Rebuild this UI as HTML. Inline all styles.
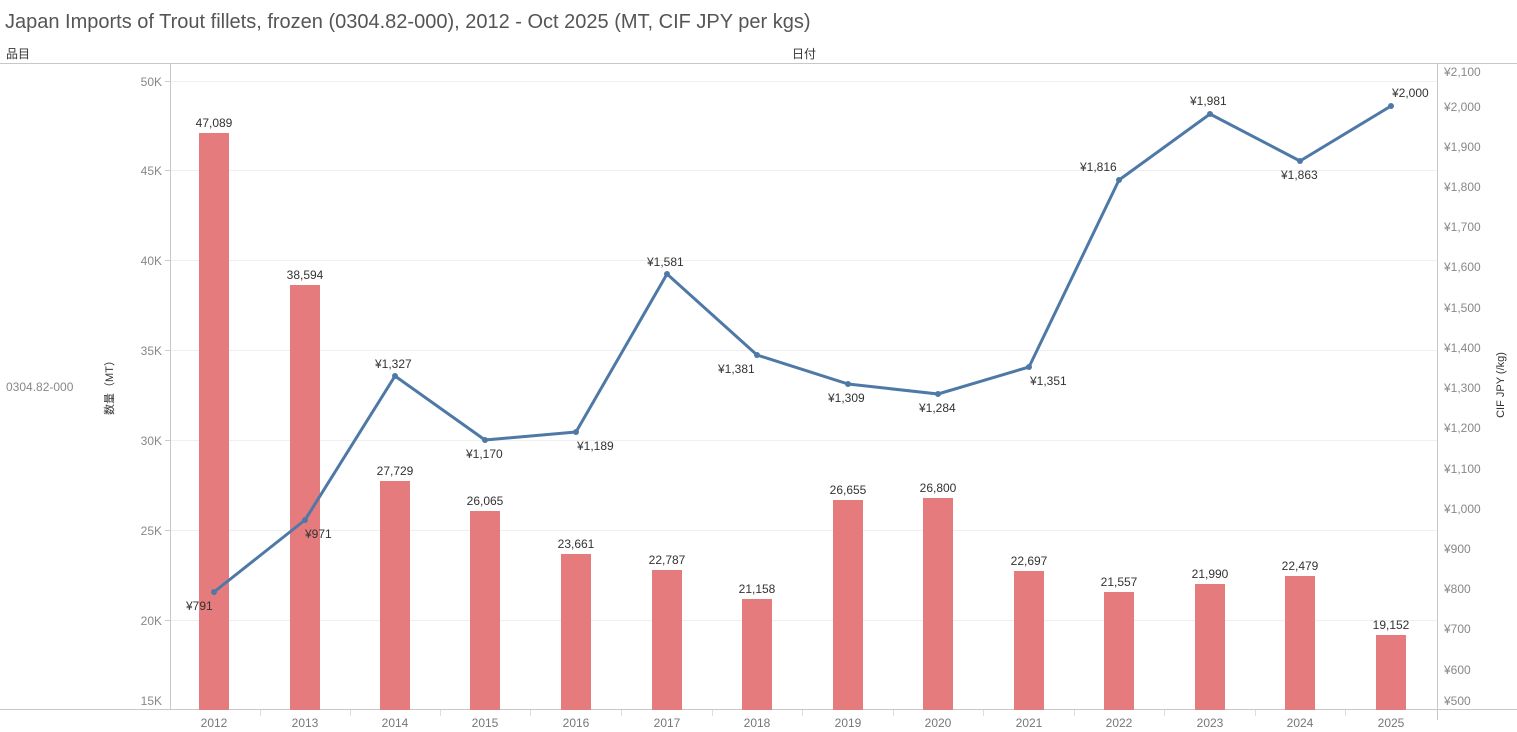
<!DOCTYPE html>
<html><head><meta charset="utf-8"><style>
body{margin:0;background:#fff;}
svg{display:block;font-family:"Liberation Sans","Noto Sans CJK JP",sans-serif;}
</style></head><body>
<svg width="1517" height="732" xmlns="http://www.w3.org/2000/svg">
<text x="5" y="28" font-size="20" fill="#555">Japan Imports of Trout fillets, frozen (0304.82-000), 2012 - Oct 2025 (MT, CIF JPY per kgs)</text>
<text x="6" y="58" font-size="12" fill="#333">品目</text>
<text x="792" y="58" font-size="12" fill="#333">日付</text>
<line x1="0" y1="63.5" x2="1517" y2="63.5" stroke="#c8c8c8"/>
<line x1="0" y1="709.5" x2="1517" y2="709.5" stroke="#c8c8c8"/>
<line x1="170.5" y1="63" x2="170.5" y2="710" stroke="#c8c8c8"/>
<line x1="1437.5" y1="63" x2="1437.5" y2="720" stroke="#c8c8c8"/>
<g stroke="#efefef">
<line x1="171" y1="81.5" x2="1437" y2="81.5"/><line x1="171" y1="170.5" x2="1437" y2="170.5"/><line x1="171" y1="260.5" x2="1437" y2="260.5"/><line x1="171" y1="350.5" x2="1437" y2="350.5"/><line x1="171" y1="440.5" x2="1437" y2="440.5"/><line x1="171" y1="530.5" x2="1437" y2="530.5"/><line x1="171" y1="620.5" x2="1437" y2="620.5"/>
</g>
<g stroke="#ccc">
<line x1="165" y1="81.5" x2="170" y2="81.5"/><line x1="165" y1="170.5" x2="170" y2="170.5"/><line x1="165" y1="260.5" x2="170" y2="260.5"/><line x1="165" y1="350.5" x2="170" y2="350.5"/><line x1="165" y1="440.5" x2="170" y2="440.5"/><line x1="165" y1="530.5" x2="170" y2="530.5"/><line x1="165" y1="620.5" x2="170" y2="620.5"/>
</g>
<g font-size="12" fill="#888" text-anchor="end">
<text x="162" y="86">50K</text><text x="162" y="175">45K</text><text x="162" y="265">40K</text><text x="162" y="355">35K</text><text x="162" y="445">30K</text><text x="162" y="535">25K</text><text x="162" y="625">20K</text><text x="162" y="705">15K</text>
</g>
<text x="6" y="391" font-size="12" fill="#888">0304.82-000</text>
<text transform="translate(113,385) rotate(-90)" font-size="11" fill="#333" text-anchor="middle">数量（MT）</text>
<text transform="translate(1504,385) rotate(-90)" font-size="11" fill="#333" text-anchor="middle">CIF JPY (/kg)</text>
<g font-size="12" fill="#888">
<text x="1444" y="76">¥2,100</text><text x="1444" y="111">¥2,000</text><text x="1444" y="151">¥1,900</text><text x="1444" y="191">¥1,800</text><text x="1444" y="231">¥1,700</text><text x="1444" y="271">¥1,600</text><text x="1444" y="312">¥1,500</text><text x="1444" y="352">¥1,400</text><text x="1444" y="392">¥1,300</text><text x="1444" y="432">¥1,200</text><text x="1444" y="473">¥1,100</text><text x="1444" y="513">¥1,000</text><text x="1444" y="553">¥900</text><text x="1444" y="593">¥800</text><text x="1444" y="633">¥700</text><text x="1444" y="674">¥600</text><text x="1444" y="705">¥500</text>
</g>
<g fill="#e67b7d">
<rect x="199" y="133" width="30" height="577"/><rect x="290" y="285" width="30" height="425"/><rect x="380" y="481" width="30" height="229"/><rect x="470" y="511" width="30" height="199"/><rect x="561" y="554" width="30" height="156"/><rect x="652" y="570" width="30" height="140"/><rect x="742" y="599" width="30" height="111"/><rect x="833" y="500" width="30" height="210"/><rect x="923" y="498" width="30" height="212"/><rect x="1014" y="571" width="30" height="139"/><rect x="1104" y="592" width="30" height="118"/><rect x="1195" y="584" width="30" height="126"/><rect x="1285" y="576" width="30" height="134"/><rect x="1376" y="635" width="30" height="75"/>
</g>
<g font-size="12" fill="#333" text-anchor="middle">
<text x="214" y="127">47,089</text><text x="305" y="279">38,594</text><text x="395" y="475">27,729</text><text x="485" y="505">26,065</text><text x="576" y="548">23,661</text><text x="667" y="564">22,787</text><text x="757" y="593">21,158</text><text x="848" y="494">26,655</text><text x="938" y="492">26,800</text><text x="1029" y="565">22,697</text><text x="1119" y="586">21,557</text><text x="1210" y="578">21,990</text><text x="1300" y="570">22,479</text><text x="1391" y="629">19,152</text>
</g>
<polyline fill="none" stroke="#4e79a7" stroke-width="3" stroke-linejoin="round" points="214,592 305,520 395,376 485,440 576,432 667,274 757,355 848,384 938,394 1029,367 1119,180 1210,114 1300,161 1391,106"/>
<g fill="#4e79a7">
<circle cx="214" cy="592" r="3"/><circle cx="305" cy="520" r="3"/><circle cx="395" cy="376" r="3"/><circle cx="485" cy="440" r="3"/><circle cx="576" cy="432" r="3"/><circle cx="667" cy="274" r="3"/><circle cx="757" cy="355" r="3"/><circle cx="848" cy="384" r="3"/><circle cx="938" cy="394" r="3"/><circle cx="1029" cy="367" r="3"/><circle cx="1119" cy="180" r="3"/><circle cx="1210" cy="114" r="3"/><circle cx="1300" cy="161" r="3"/><circle cx="1391" cy="106" r="3"/>
</g>
<g font-size="12" fill="#333">
<text x="186" y="610">¥791</text><text x="305" y="538">¥971</text><text x="375" y="368">¥1,327</text><text x="466" y="458">¥1,170</text><text x="577" y="450">¥1,189</text><text x="647" y="266">¥1,581</text><text x="718" y="373">¥1,381</text><text x="828" y="402">¥1,309</text><text x="919" y="412">¥1,284</text><text x="1030" y="385">¥1,351</text><text x="1080" y="171">¥1,816</text><text x="1190" y="105">¥1,981</text><text x="1281" y="179">¥1,863</text><text x="1392" y="97">¥2,000</text>
</g>
<g stroke="#ddd"><line x1="260.5" y1="710" x2="260.5" y2="716"/><line x1="350.5" y1="710" x2="350.5" y2="716"/><line x1="440.5" y1="710" x2="440.5" y2="716"/><line x1="530.5" y1="710" x2="530.5" y2="716"/><line x1="621.5" y1="710" x2="621.5" y2="716"/><line x1="712.5" y1="710" x2="712.5" y2="716"/><line x1="802.5" y1="710" x2="802.5" y2="716"/><line x1="893.5" y1="710" x2="893.5" y2="716"/><line x1="983.5" y1="710" x2="983.5" y2="716"/><line x1="1074.5" y1="710" x2="1074.5" y2="716"/><line x1="1164.5" y1="710" x2="1164.5" y2="716"/><line x1="1255.5" y1="710" x2="1255.5" y2="716"/><line x1="1345.5" y1="710" x2="1345.5" y2="716"/></g>
<g font-size="12" fill="#777" text-anchor="middle">
<text x="214" y="727">2012</text><text x="305" y="727">2013</text><text x="395" y="727">2014</text><text x="485" y="727">2015</text><text x="576" y="727">2016</text><text x="667" y="727">2017</text><text x="757" y="727">2018</text><text x="848" y="727">2019</text><text x="938" y="727">2020</text><text x="1029" y="727">2021</text><text x="1119" y="727">2022</text><text x="1210" y="727">2023</text><text x="1300" y="727">2024</text><text x="1391" y="727">2025</text>
</g>
</svg>
</body></html>
